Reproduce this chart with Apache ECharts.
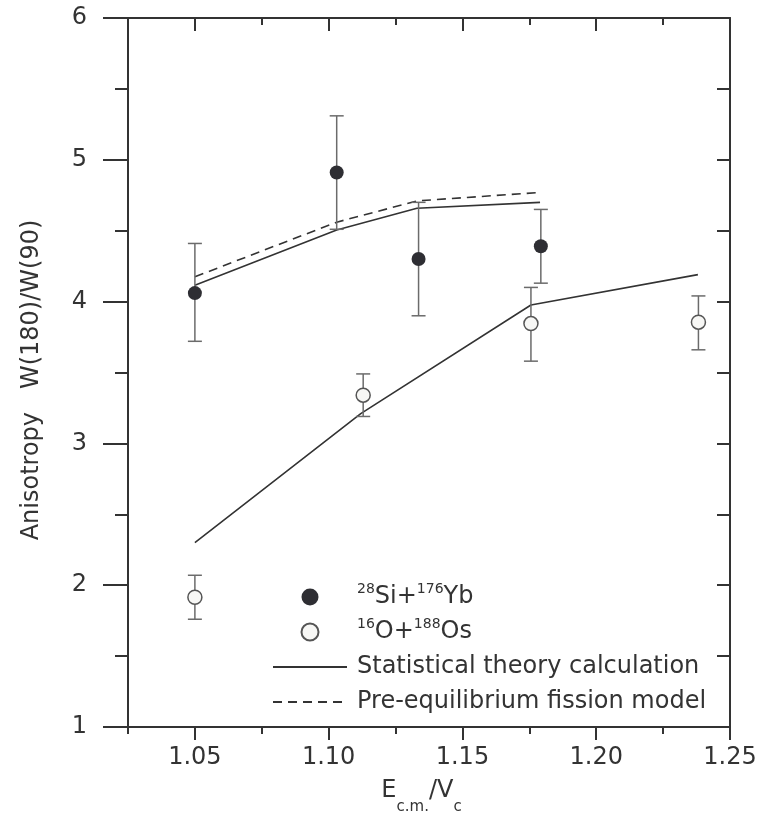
<!DOCTYPE html>
<html>
<head>
<meta charset="utf-8">
<script src="https://cdn.jsdelivr.net/npm/echarts@6/dist/echarts.min.js"></script>
<style>
html,body{margin:0;padding:0;background:#fff;}
#chart{width:774px;height:813px;}
</style>
</head>
<body>
<div id="chart"></div>
<script>
// ---- data ----
const xMajorTicks = [1.05, 1.10, 1.15, 1.20, 1.25];
const xMinorTicks = [1.025, 1.075, 1.125, 1.175, 1.225];

const siX    = [1.05, 1.103, 1.1336, 1.1793];
const siY    = [4.06, 4.91, 4.30, 4.39];
const siLow  = [3.72, 4.51, 3.90, 4.13];
const siHigh = [4.41, 5.31, 4.70, 4.65];

const oX    = [1.05, 1.1129, 1.1756, 1.2382];
const oY    = [1.915, 3.34, 3.845, 3.855];
const oLow  = [1.76, 3.19, 3.58, 3.66];
const oHigh = [2.07, 3.49, 4.10, 4.04];

const statSiX = [1.05, 1.103, 1.133, 1.179];
const statSiY = [4.115, 4.505, 4.658, 4.70];
const preSiY  = [4.175, 4.56, 4.71, 4.77];

const statOX = [1.05, 1.112, 1.1756, 1.238];
const statOY = [2.30, 3.21, 3.976, 4.19];

// ---- build ----
const zip = (a, b) => a.map((v, i) => [v, b[i]]);
const zip3 = (a, b, c) => a.map((v, i) => [v, b[i], c[i]]);

const FONT = 'DejaVu Sans';
const AX = '#333';
const TXT = '#333';

function errRender(params, api) {
  const x = api.value(0), lo = api.value(1), hi = api.value(2);
  const a = api.coord([x, lo]), b = api.coord([x, hi]);
  const hw = 7;
  const st = { stroke: '#6b6b6b', lineWidth: 1.5, fill: null };
  return {
    type: 'group',
    children: [
      { type: 'line', shape: { x1: a[0], y1: a[1], x2: b[0], y2: b[1] }, style: st },
      { type: 'line', shape: { x1: a[0] - hw, y1: a[1], x2: a[0] + hw, y2: a[1] }, style: st },
      { type: 'line', shape: { x1: b[0] - hw, y1: b[1], x2: b[0] + hw, y2: b[1] }, style: st }
    ]
  };
}

const xRange = { min: 1.025, max: 1.25 };
const yRange = { min: 1, max: 6 };
const hiddenSym = { color: 'rgba(0,0,0,0)', borderWidth: 0, opacity: 0 };

const chart = echarts.init(document.getElementById('chart'));
chart.setOption({
  animation: false,
  backgroundColor: '#fff',
  textStyle: { fontFamily: FONT },
  grid: { left: 128, right: 44, top: 18, bottom: 86, containLabel: false, outerBoundsMode: 'none' },
  legend: {
    orient: 'vertical',
    left: 272,
    top: 582,
    padding: 0,
    itemWidth: 74,
    itemHeight: 17,
    itemGap: 5,
    data: [
      { name: '28Si+176Yb' },
      { name: '16O+188Os' },
      { name: 'Statistical theory calculation', itemStyle: hiddenSym },
      { name: 'Pre-equilibrium fission model', itemStyle: hiddenSym }
    ],
    formatter: function (name) {
      if (name === '28Si+176Yb') return '{sup|28}{m|Si+}{sup|176}{m|Yb}';
      if (name === '16O+188Os') return '{sup|16}{m|O+}{sup|188}{m|Os}';
      return '{m|' + name + '}';
    },
    textStyle: {
      fontFamily: FONT,
      fontSize: 24,
      color: TXT,
      lineHeight: 30,
      padding: [0, 0, 0, 5],
      rich: {
        m: { fontFamily: FONT, fontSize: 24, color: TXT, lineHeight: 30 },
        sup: { fontFamily: FONT, fontSize: 14, color: TXT, lineHeight: 16, verticalAlign: 'top' }
      }
    }
  },
  xAxis: [
    {
      type: 'value', position: 'bottom', ...xRange,
      axisLine: { show: true, onZero: false, lineStyle: { color: AX, width: 2 } },
      axisTick: { show: true, customValues: xMajorTicks, length: 13, inside: false, lineStyle: { color: AX, width: 2 } },
      axisLabel: { show: true, customValues: xMajorTicks, margin: 19, fontSize: 24, color: TXT, fontFamily: FONT,
        formatter: v => v.toFixed(2) },
      splitLine: { show: false },
      name: '{e|E}{sub|c.m.}{e|/V}{sub|c}',
      nameLocation: 'middle',
      nameGap: 52,
      nameTextStyle: {
        padding: [0, 15, 0, 0],
        rich: {
          e: { fontFamily: FONT, fontSize: 24, color: TXT, lineHeight: 24, verticalAlign: 'top' },
          sub: { fontFamily: FONT, fontSize: 15, color: TXT, lineHeight: 15, verticalAlign: 'top', padding: [21, 0, 0, 0] }
        }
      }
    },
    {
      type: 'value', position: 'bottom', ...xRange,
      axisLine: { show: false, onZero: false },
      axisTick: { show: true, customValues: xMinorTicks, length: 7, inside: false, lineStyle: { color: AX, width: 2 } },
      axisLabel: { show: false },
      splitLine: { show: false }
    },
    {
      type: 'value', position: 'top', ...xRange,
      axisLine: { show: true, onZero: false, lineStyle: { color: AX, width: 2 } },
      axisTick: { show: true, customValues: xMajorTicks, length: 13, inside: true, lineStyle: { color: AX, width: 2 } },
      axisLabel: { show: false },
      splitLine: { show: false }
    },
    {
      type: 'value', position: 'top', ...xRange,
      axisLine: { show: false, onZero: false },
      axisTick: { show: true, customValues: xMinorTicks, length: 7, inside: true, lineStyle: { color: AX, width: 2 } },
      axisLabel: { show: false },
      splitLine: { show: false }
    }
  ],
  yAxis: [
    {
      type: 'value', position: 'left', ...yRange, interval: 1,
      axisLine: { show: true, onZero: false, lineStyle: { color: AX, width: 2 } },
      axisTick: { show: true, length: 25, inside: false, lineStyle: { color: AX, width: 2 } },
      minorTick: { show: true, splitNumber: 2, length: 13, lineStyle: { color: AX, width: 2 } },
      axisLabel: { show: true, margin: 41, fontSize: 24, color: TXT, fontFamily: FONT },
      splitLine: { show: false },
      minorSplitLine: { show: false },
      name: 'Anisotropy   W(180)/W(90)',
      nameLocation: 'middle',
      nameGap: 84,
      nameTextStyle: { fontFamily: FONT, fontSize: 24, color: TXT, padding: [0, 15, 0, 0] }
    },
    {
      type: 'value', position: 'right', ...yRange, interval: 1,
      axisLine: { show: true, onZero: false, lineStyle: { color: AX, width: 2 } },
      axisTick: { show: true, length: 13, inside: true, lineStyle: { color: AX, width: 2 } },
      minorTick: { show: true, splitNumber: 2, length: 13, lineStyle: { color: AX, width: 2 } },
      axisLabel: { show: false },
      splitLine: { show: false },
      minorSplitLine: { show: false }
    }
  ],
  series: [
    {
      name: 'Statistical theory calculation', type: 'line', xAxisIndex: 0, yAxisIndex: 0,
      data: zip(statSiX, statSiY), symbol: 'none', z: 2,
      lineStyle: { color: '#333', width: 1.6, type: 'solid' }, itemStyle: { color: '#333' }
    },
    {
      name: 'Pre-equilibrium fission model', type: 'line', xAxisIndex: 0, yAxisIndex: 0,
      data: zip(statSiX, preSiY), symbol: 'none', z: 2,
      lineStyle: { color: '#333', width: 1.6, type: [9, 6] }, itemStyle: { color: '#333' }
    },
    {
      name: 'Statistical theory calculation', type: 'line', xAxisIndex: 0, yAxisIndex: 0,
      data: zip(statOX, statOY), symbol: 'none', z: 2,
      lineStyle: { color: '#333', width: 1.6, type: 'solid' }, itemStyle: { color: '#333' }
    },
    {
      name: 'errSi', type: 'custom', xAxisIndex: 0, yAxisIndex: 0, z: 3,
      renderItem: errRender, encode: { x: 0, y: [1, 2] },
      data: zip3(siX, siLow, siHigh)
    },
    {
      name: 'errO', type: 'custom', xAxisIndex: 0, yAxisIndex: 0, z: 3,
      renderItem: errRender, encode: { x: 0, y: [1, 2] },
      data: zip3(oX, oLow, oHigh)
    },
    {
      name: '28Si+176Yb', type: 'scatter', xAxisIndex: 0, yAxisIndex: 0, z: 5,
      data: zip(siX, siY), symbol: 'circle', symbolSize: 14,
      itemStyle: { color: '#2e2e33', borderColor: '#2e2e33', borderWidth: 0, opacity: 1 }
    },
    {
      name: '16O+188Os', type: 'scatter', xAxisIndex: 0, yAxisIndex: 0, z: 5,
      data: zip(oX, oY), symbol: 'circle', symbolSize: 14,
      itemStyle: { color: '#f7f7f5', borderColor: '#555', borderWidth: 1.5, opacity: 1 }
    }
  ]
});
</script>
</body>
</html>
